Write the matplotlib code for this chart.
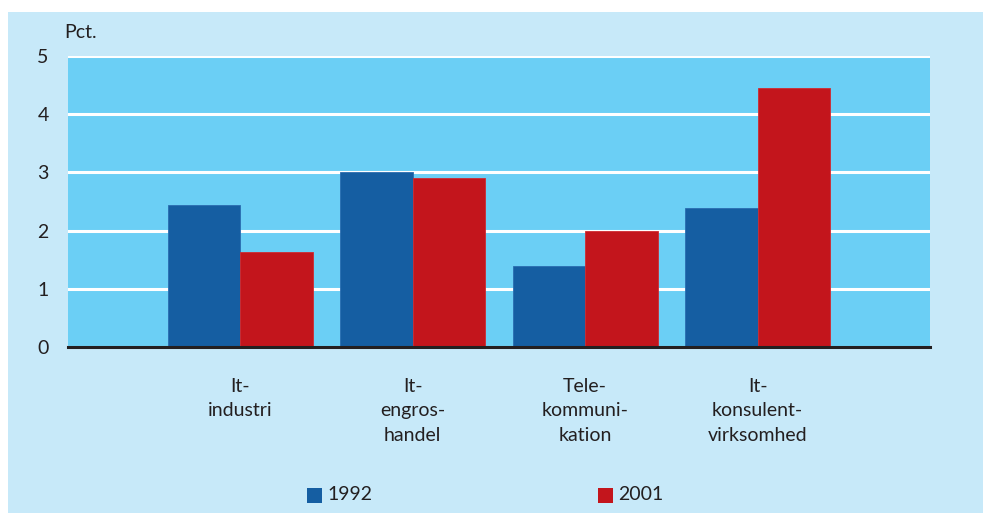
import matplotlib
matplotlib.use("Agg")
import matplotlib.pyplot as plt
from matplotlib.patches import Rectangle
import numpy as np

categories = ["It-\nindustri", "It-\nengros-\nhandel", "Tele-\nkommuni-\nkation", "It-\nkonsulent-\nvirksomhed"]
series_names = ["1992", "2001"]
values_1992 = [2.44, 3.0, 1.39, 2.38]
values_2001 = [1.64, 2.9, 1.99, 4.45]
yticks = [0, 1, 2, 3, 4, 5]

plt.rcParams['font.family'] = ['Lato', 'DejaVu Sans']

BLUE = "#155EA2"
RED = "#C3151C"
PLOT_BG = "#6BCFF5"
PANEL = "#C7E9F9"
TEXT = "#231F20"

fig = plt.figure(figsize=(9.83, 5.13), dpi=100)
fig.patch.set_facecolor("white")
fig.patches.append(Rectangle((8/983, 0), 1 - 8/983, 1 - 12/513, transform=fig.transFigure,
                             facecolor=PANEL, edgecolor="none", zorder=-5))

ax = fig.add_axes([68/983, 1 - 347/513, 862/983, 291/513])
ax.set_zorder(2)
ax.set_facecolor(PLOT_BG)
x = np.arange(len(categories))
w = 0.42
ax.bar(x - w/2, values_1992, w, color=BLUE, edgecolor="#2A6DB0", linewidth=0.6, zorder=3, label=series_names[0])
ax.bar(x + w/2, values_2001, w, color=RED, edgecolor="#D02A30", linewidth=0.6, zorder=3, label=series_names[1])

ax.set_xlim(-1, 4)
ax.set_ylim(0, 5)
ax.set_yticks(yticks)
ax.set_yticklabels([str(t) for t in yticks], fontsize=14, color=TEXT)
ax.yaxis.grid(True, color="white", linewidth=2.2, zorder=1)
ax.set_axisbelow(True)
for s in ["top", "right", "left"]:
    ax.spines[s].set_visible(False)
ax.spines["bottom"].set_color("#231F20")
ax.spines["bottom"].set_linewidth(2.2)
ax.spines["bottom"].set_zorder(5)
ax.tick_params(axis="y", length=0, pad=14)
ax.tick_params(axis="x", length=0, pad=22)
ax.set_xticks(x)
ax.set_xticklabels(categories, fontsize=14, color=TEXT, linespacing=1.55, va="top")

fig.text(64/983, 1 - 32/513, "Pct.", fontsize=14, color=TEXT, ha="left", va="center", zorder=3)

# legend
for xs, name, col in [(307, series_names[0], BLUE), (598, series_names[1], RED)]:
    fig.patches.append(Rectangle((xs/983, 1 - 503/513), 15/983, 15/513, transform=fig.transFigure,
                                 facecolor=col, edgecolor="none", zorder=2))
    fig.text((xs + 20)/983, 1 - 495/513, name, fontsize=14, color=TEXT, ha="left", va="center", zorder=3)

fig.savefig("out.png", dpi=100, facecolor=fig.get_facecolor())
